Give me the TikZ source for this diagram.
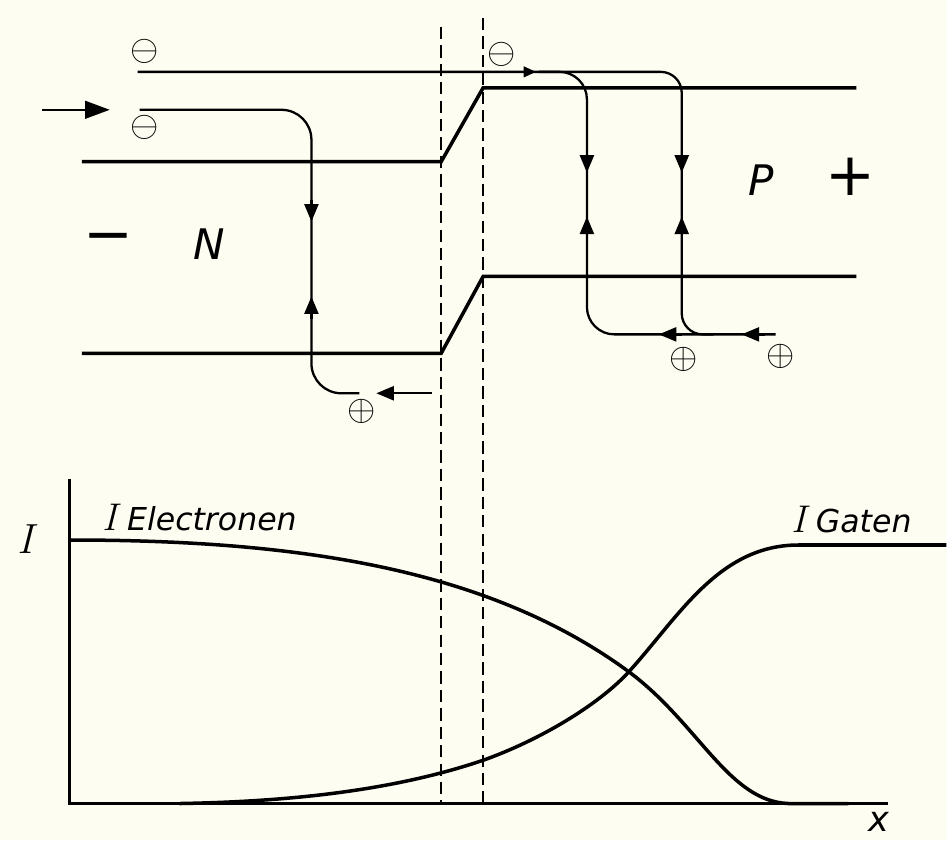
\documentclass[tikz,border=0pt]{standalone}
\usepackage{fontspec}
\newfontfamily\lettering{DejaVu Sans}
\usetikzlibrary{arrows.meta}
\definecolor{paper}{RGB}{254,253,241}

\begin{document}
\begin{tikzpicture}[x=0.02cm, y=-0.02cm,
  band/.style={line width=2pt},
  carrier/.style={line width=1.3pt, rounded corners=0.5cm},
  flow/.style={line width=1.3pt, -{Triangle[length=10pt,width=8pt]}},
  junction/.style={line width=1pt, dash pattern=on 7pt off 3.5pt},
  curve/.style={line width=2pt},
  charge/.style={inner sep=0pt, font=\fontsize{22}{22}\selectfont},
  sign/.style={inner sep=0pt, font=\lettering\fontsize{34}{34}\selectfont},
  lbl/.style={inner sep=0pt, font=\lettering\itshape\fontsize{18}{18}\selectfont}]
  \fill[paper] (0,0) rectangle (948,842);

  % band edges
  \draw[band] (82,162) -- (442,162) -- (484,88) -- (858,88);
  \draw[band] (82,354) -- (442,354) -- (484,277) -- (858,277);
  \draw[junction] (442,27) -- (442,805);
  \draw[junction] (484,18) -- (484,805);

  % N side
  \coordinate (in) at (42,110);
  \coordinate (inend) at (110,110);
  \draw[flow, -{Triangle[length=14pt,width=10pt]}] (in) -- (inend);
  \draw[carrier, rounded corners=0.6cm] (140,110) -- (312,110) -- (312,394) -- (360,394);
  \draw[flow] (312,200) -- (312,222);
  \draw[flow] (312,320) -- (312,297);
  \draw[flow] (433,394) -- (377,394);
  \node[charge] (e1) at (145,52) {$\ominus$};
  \node[charge] (e2) at (145,128) {$\ominus$};
  \node[charge] (h1) at (362,412) {$\oplus$};
  \node[sign] (minus) at (109,244) {−};
  \node[lbl, font=\lettering\itshape\fontsize{24}{24}\selectfont] (N) at (210,245) {N};

  % P side
  \draw[carrier, rounded corners=0.42cm] (138,72) -- (683,72) -- (683,335) -- (715,335);
  \draw[carrier, rounded corners=0.55cm] (540,72) -- (588,72) -- (588,335) -- (777,335);
  \draw[flow, -{Triangle[length=7pt,width=6pt]}] (518,72) -- (537,72);
  \foreach \xx in {588,683} {
    \draw[flow] (\xx,150) -- (\xx,173);
    \draw[flow] (\xx,240) -- (\xx,217);
  }
  \draw[flow] (683,335) -- (660,335);
  \draw[flow] (766,335) -- (743,335);
  \node[charge] (e3) at (503,55) {$\ominus$};
  \node[charge] (h2) at (685,360) {$\oplus$};
  \node[charge] (h3) at (782,357) {$\oplus$};
  \node[lbl, font=\lettering\itshape\fontsize{24}{24}\selectfont] (P) at (763,180) {P};
  \node[sign] (plus) at (852,177) {+};

  % currents
  \draw[line width=1.6pt] (70,480) -- (70,805) -- (890,805);
  \node[inner sep=0pt, font=\itshape\fontsize{24}{24}\selectfont] (Iax) at (25,540) {I};
  \node[lbl, font=\lettering\itshape\fontsize{20}{20}\selectfont] (xax) at (880,823) {x};
  \draw[curve] (70,541) .. controls (300,541) and (490,570) .. (630,673)
    .. controls (700,725) and (730,803) .. (790,805) -- (850,805);
  \draw[curve] (180,805) .. controls (300,803) and (400,790) .. (483,762)
    .. controls (540,742) and (600,706) .. (630,673)
    .. controls (680,618) and (720,546) .. (800,546) -- (948,546);
  \node[lbl] (Iel) at (200,518) {{\normalfont\itshape\fontsize{22}{22}\selectfont I} Electronen};
  \node[lbl] (Iga) at (853,520) {{\normalfont\itshape\fontsize{22}{22}\selectfont I} Gaten};
\end{tikzpicture}
\end{document}
